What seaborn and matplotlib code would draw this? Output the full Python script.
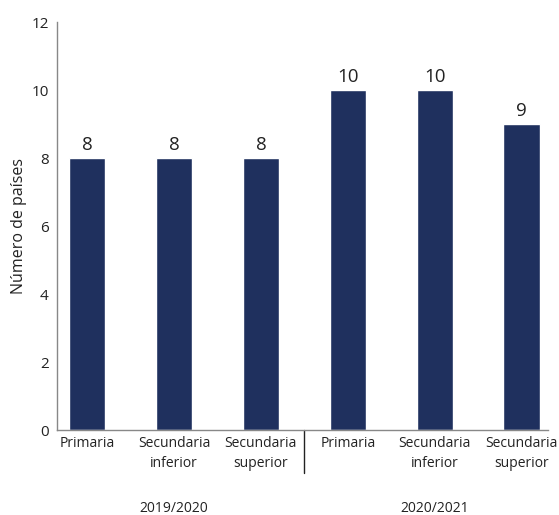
import matplotlib
matplotlib.use("Agg")
import matplotlib.pyplot as plt
import seaborn as sns
import pandas as pd

categories = ["Primaria", "Secundaria\ninferior", "Secundaria\nsuperior",
              "Primaria", "Secundaria\ninferior", "Secundaria\nsuperior"]
values = [8, 8, 8, 10, 10, 9]
groups = ["2019/2020", "2020/2021"]
yticks = [0, 2, 4, 6, 8, 10, 12]

sns.set_theme(style="white")
plt.rcParams['font.family'] = ['Open Sans', 'DejaVu Sans']

df = pd.DataFrame({"pos": [str(i) for i in range(len(values))], "val": values})

fig = plt.figure(figsize=(5.59, 5.15), dpi=100)
ax = fig.add_axes([0.102, 0.165, 0.878, 0.792])
sns.barplot(data=df, x="pos", y="val", color="#1F305E", saturation=1, width=0.42, ax=ax)

for i, v in enumerate(values):
    ax.text(i, v + 0.12, str(v), ha="center", va="bottom", fontsize=13.5, color="#222222")

ax.set_ylim(0, 12)
ax.set_yticks(yticks)
ax.set_xlim(-0.345, 5.3)
ax.set_xticks(range(len(categories)))
ax.set_xticklabels(categories, fontsize=10, color="#222222", linespacing=1.45)
ax.tick_params(axis="y", labelsize=11, labelcolor="#222222", length=0, pad=6)
ax.tick_params(axis="x", length=0, pad=4)
ax.set_xlabel("")
ax.set_ylabel("Número de países", fontsize=11.5, color="#222222", labelpad=3)

for s in ["top", "right"]:
    ax.spines[s].set_visible(False)
for s in ["left", "bottom"]:
    ax.spines[s].set_color("#888888")
    ax.spines[s].set_linewidth(1.0)

ax.plot([2.5, 2.5], [0, -1.25], color="#222222", lw=1, clip_on=False)

for j, g in enumerate(groups):
    ax.text(1 + 3 * j, -2.3, g, ha="center", va="center", fontsize=10, color="#222222", clip_on=False)

fig.savefig("out.png", dpi=100)
